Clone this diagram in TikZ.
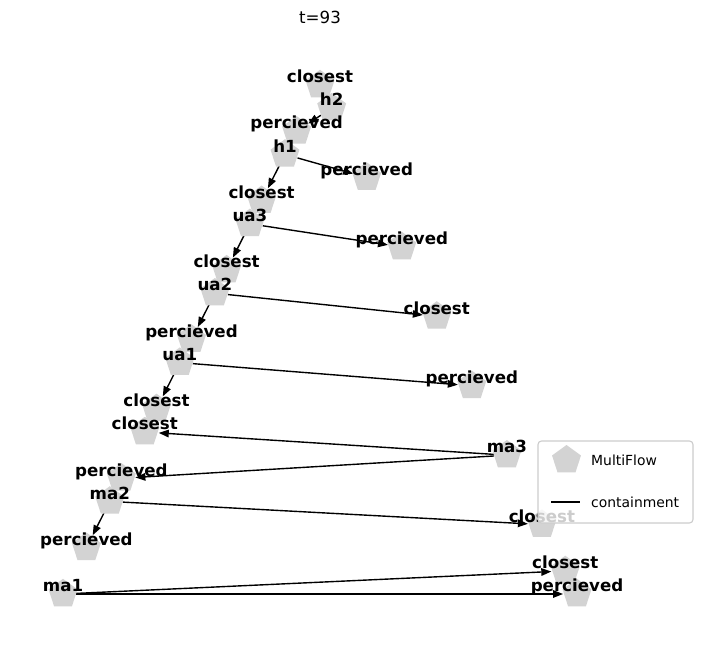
\documentclass[tikz,border=0pt]{standalone}
\usepackage{fontspec}
\setmainfont{DejaVu Sans}
\usetikzlibrary{shapes.geometric,arrows.meta}
\definecolor{nodegrey}{HTML}{D3D3D3}
\definecolor{legborder}{HTML}{CCCCCC}
\pgfdeclarelayer{background}
\pgfsetlayers{background,main}
\begin{document}
\begin{tikzpicture}[x=1pt,y=-1pt,
  mf/.style={regular polygon, regular polygon sides=5, minimum size=30.4pt, inner sep=0pt, fill=nodegrey, draw=none},
  lbl/.style={anchor=base, inner sep=0pt, font=\fontsize{16.67}{20}\selectfont\bfseries},
  cont/.style={-{Triangle[length=10pt,width=7.5pt]}, line width=1.39pt, shorten <=13pt, shorten >=14pt},
  legtext/.style={anchor=base west, inner sep=0pt, font=\fontsize{13.9}{16}\selectfont},
]
\useasboundingbox (0,0) rectangle (702,658);

\node[anchor=base, inner sep=0pt, font=\fontsize{16.67}{20}\selectfont] (title) at (320,24) {t=93};

% nodes: name / x / y / label
\foreach \nm/\px/\py/\tx in {
  n0/320.0/85.0/closest,
  h2/331.7/108.1/h2,
  n2/296.6/131.3/percieved,
  h1/285.0/154.4/h1,
  n4/366.7/177.5/percieved,
  n5/261.6/200.7/closest,
  ua3/249.9/223.8/ua3,
  n7/401.8/247.0/percieved,
  n8/226.6/270.1/closest,
  ua2/214.9/293.2/ua2,
  n10/436.8/316.4/closest,
  n11/191.5/339.5/percieved,
  ua1/179.8/362.6/ua1,
  n13/471.8/385.8/percieved,
  n14/156.5/408.9/closest,
  n15/144.8/432.0/closest,
  ma3/506.9/455.2/ma3,
  n17/121.4/478.3/percieved,
  ma2/109.8/501.4/ma2,
  n19/541.9/524.6/closest,
  n20/86.4/547.7/percieved,
  n21/565.3/570.9/closest,
  ma1/63.0/594.0/ma1,
  n22/577.0/594.0/percieved%
}{
  \node[mf] (\nm) at (\px,\py) {};
  \node[lbl] (l\nm) at (\px,\py-2.3) {\tx};
}

\begin{pgfonlayer}{background}
\foreach \s/\t in {h2/n2, h1/n4, h1/n5, ua3/n7, ua3/n8, ua2/n10, ua2/n11,
  ua1/n13, ua1/n14, ma3/n15, ma3/n17, ma2/n19, ma2/n20, ma1/n21, ma1/n22}{
  \draw[cont] (\s.center) -- (\t.center);
}
\end{pgfonlayer}

% legend
\node[draw=legborder, line width=1.1pt, fill=white, fill opacity=0.8, rounded corners=3.5pt,
  minimum width=155pt, minimum height=82pt, inner sep=0pt] (legend) at (615.5,482) {};
\node[mf] (legmark) at (566.5,460.2) {};
\coordinate (legA) at (551,502);
\coordinate (legB) at (580,502);
\draw[line width=1.8pt] (legA) -- (legB);
\node[legtext] (legt1) at (591,465.5) {MultiFlow};
\node[legtext] (legt2) at (591,507) {containment};
\end{tikzpicture}
\end{document}
